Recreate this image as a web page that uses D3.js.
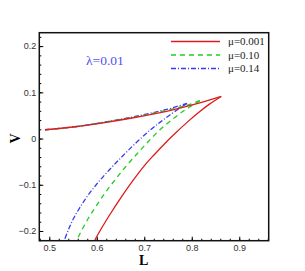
<!DOCTYPE html>
<html lang="en">
<head>
    <meta charset="UTF-8">
    <title>V vs L</title>
    <script src="https://d3js.org/d3.v7.min.js"></script>
    <style>
        body { margin: 0; background: #fff; }
        .tick text { font-family: "Liberation Sans", Arial, sans-serif; font-size: 9px; fill: #333; }
        .tick line { stroke: #000; }
    </style>
</head>
<body>
    <div id="chart"></div>
    <script>
        // Data: [L, V] points, upper branch then lower branch
        const series = ["μ=0.001", "μ=0.10", "μ=0.14"];
        const colors = ["#dd1c1c", "#22cc22", "#3a3aee"];
        const dashes = [null, "5,4", "5,2,1,2"];

        const redUpper = [[0.491, 0.019], [0.55, 0.025], [0.607, 0.033], [0.677, 0.045], [0.747, 0.059], [0.817, 0.077], [0.862, 0.091]];
        const redLower = [[0.862, 0.091], [0.838, 0.075], [0.815, 0.057], [0.79, 0.035], [0.768, 0.014], [0.745, -0.009], [0.72, -0.036], [0.70, -0.059], [0.676, -0.091], [0.652, -0.126], [0.626, -0.167], [0.60, -0.212], [0.595, -0.222]];

        const greenUpper = [[0.491, 0.019], [0.55, 0.025], [0.607, 0.034], [0.677, 0.046], [0.747, 0.061], [0.79, 0.072], [0.817, 0.082]];
        const greenLower = [[0.817, 0.082], [0.81, 0.077], [0.786, 0.062], [0.761, 0.043], [0.733, 0.019], [0.708, -0.007], [0.684, -0.034], [0.66, -0.062], [0.638, -0.09], [0.618, -0.117], [0.6, -0.144], [0.582, -0.173], [0.565, -0.205], [0.557, -0.222]];

        const blueUpper = [[0.491, 0.019], [0.55, 0.025], [0.607, 0.034], [0.677, 0.047], [0.747, 0.063], [0.79, 0.076]];
        const blueLower = [[0.79, 0.076], [0.775, 0.066], [0.754, 0.051], [0.733, 0.035], [0.712, 0.018], [0.686, -0.006], [0.662, -0.03], [0.64, -0.053], [0.618, -0.077], [0.598, -0.101], [0.58, -0.125], [0.564, -0.15], [0.551, -0.173], [0.54, -0.198], [0.531, -0.222]];

        const curves = [[redUpper, redLower], [greenUpper, greenLower], [blueUpper, blueLower]];

        const xTicks = [0.5, 0.6, 0.7, 0.8, 0.9];
        const yTicks = [-0.2, -0.1, 0, 0.1, 0.2];

        const width = 305, height = 271;
        const margin = { top: 32.7, right: 36.3, bottom: 30.3, left: 39.3 };
        const w = width - margin.left - margin.right;
        const h = height - margin.top - margin.bottom;

        const svg = d3.select("#chart").append("svg")
            .attr("width", width)
            .attr("height", height);

        const g = svg.append("g")
            .attr("transform", "translate(" + margin.left + "," + margin.top + ")");

        const x = d3.scaleLinear().domain([0.479, 0.962]).range([0, w]);
        const y = d3.scaleLinear().domain([-0.221, 0.229]).range([h, 0]);

        // minor ticks (inward)
        g.append("g")
            .attr("transform", "translate(0," + h + ")")
            .call(d3.axisBottom(x).tickValues(d3.range(0.48, 0.961, 0.02)).tickSize(-2).tickFormat(""))
            .call(a => a.select(".domain").remove());
        g.append("g")
            .call(d3.axisLeft(y).tickValues(d3.range(-0.22, 0.221, 0.02)).tickSize(-2).tickFormat(""))
            .call(a => a.select(".domain").remove());

        // major ticks with labels
        g.append("g")
            .attr("transform", "translate(0," + h + ")")
            .call(d3.axisBottom(x).tickValues(xTicks).tickSize(-4).tickPadding(3).tickFormat(d3.format(".1f")))
            .call(a => a.select(".domain").remove())
            .call(a => a.selectAll(".tick text").attr("dy", "0.8em"));
        g.append("g")
            .call(d3.axisLeft(y).tickValues(yTicks).tickSize(-4).tickPadding(3).tickFormat(d => d === 0 ? "0" : d3.format(".1f")(d)))
            .call(a => a.select(".domain").remove())
            .call(a => a.selectAll(".tick text").attr("x", -3));

        // curves
        g.append("clipPath").attr("id", "clip")
            .append("rect").attr("width", w).attr("height", h);

        const line = d3.line()
            .x(d => x(d[0]))
            .y(d => y(d[1]))
            .curve(d3.curveCatmullRom.alpha(0.5));

        const plot = g.append("g").attr("clip-path", "url(#clip)");
        // draw in reverse so red sits on top like the reference
        [2, 1, 0].forEach(i => {
            curves[i].forEach(branch => {
                plot.append("path")
                    .attr("d", line(branch))
                    .attr("fill", "none")
                    .attr("stroke", colors[i])
                    .attr("stroke-width", 1.3)
                    .attr("stroke-dasharray", dashes[i]);
            });
        });

        // frame
        g.append("rect")
            .attr("width", w)
            .attr("height", h)
            .attr("fill", "none")
            .attr("stroke", "#111")
            .attr("stroke-width", 1.5);

        // legend
        const legend = svg.append("g").attr("transform", "translate(171,41.5)");
        series.forEach((s, i) => {
            const row = legend.append("g").attr("transform", "translate(0," + (i * 13.5) + ")");
            row.append("line")
                .attr("x1", 0).attr("x2", 49)
                .attr("stroke", colors[i])
                .attr("stroke-width", 1.3)
                .attr("stroke-dasharray", dashes[i]);
            row.append("text")
                .attr("x", 57)
                .attr("y", 3.8)
                .style("font-family", "'Liberation Serif', 'Times New Roman', serif")
                .style("font-size", "11px")
                .style("fill", "#222")
                .text(s);
        });

        // annotation
        svg.append("text")
            .attr("x", 86)
            .attr("y", 65)
            .style("font-family", "'Liberation Serif', 'Times New Roman', serif")
            .style("font-size", "13.5px")
            .style("fill", "#5252f0")
            .text("λ=0.01");

        // axis titles
        svg.append("text")
            .attr("x", margin.left + x(0.7) - 0.5)
            .attr("y", 264.5)
            .attr("text-anchor", "middle")
            .style("font-family", "'Liberation Serif', 'Times New Roman', serif")
            .style("font-weight", "bold")
            .style("font-size", "14px")
            .text("L");

        svg.append("text")
            .attr("transform", "translate(20," + (margin.top + y(0)) + ") rotate(-90)")
            .attr("text-anchor", "middle")
            .style("font-family", "'Liberation Serif', 'Times New Roman', serif")
            .style("font-weight", "bold")
            .style("font-size", "14px")
            .text("V");
    </script>
</body>
</html>
